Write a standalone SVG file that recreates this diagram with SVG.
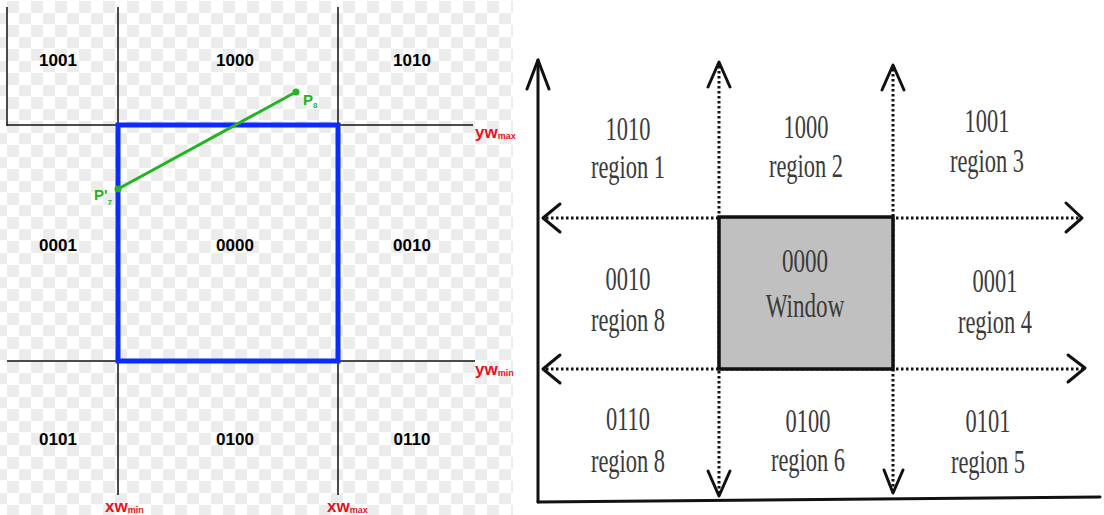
<svg xmlns="http://www.w3.org/2000/svg" width="1104" height="515" viewBox="0 0 1104 515">
<defs>
<pattern id="checker" x="0" y="0" width="24" height="24" patternUnits="userSpaceOnUse">
<rect width="24" height="24" fill="#ffffff"/>
<rect x="7" y="1" width="12" height="12" fill="#ececec"/>
<rect x="-5" y="13" width="12" height="12" fill="#ececec"/>
<rect x="19" y="13" width="12" height="12" fill="#ececec"/>
<rect x="7" y="-23" width="12" height="12" fill="#ececec"/>
</pattern>
</defs>
<style>
.ln{stroke:#111;stroke-width:1.5;fill:none}
.code{font-family:"Liberation Sans",Arial,sans-serif;font-weight:bold;font-size:17px;fill:#000;text-anchor:middle}
.red{font-family:"Liberation Sans",Arial,sans-serif;font-weight:bold;fill:#e4141c}
.grn{font-family:"Liberation Sans",Arial,sans-serif;font-weight:bold;fill:#22b422}
.dot{stroke:#111;stroke-width:3;stroke-dasharray:2.5 2.5;fill:none}
.arr{stroke:#111;stroke-width:3;fill:none;stroke-linecap:round;stroke-linejoin:round}
.ser{font-family:"Liberation Serif","Times New Roman",serif;font-size:34px;fill:#3a3a3a;text-anchor:middle}
</style>
<rect width="1104" height="515" fill="#ffffff"/>
<rect x="0" y="0" width="513" height="515" fill="url(#checker)"/>

<g id="left-grid">
<line class="ln" x1="7" y1="7" x2="7" y2="126"/>
<line class="ln" x1="118" y1="7" x2="118" y2="495"/>
<line class="ln" x1="338" y1="7" x2="338" y2="495"/>
<line class="ln" x1="7" y1="125" x2="473" y2="125"/>
<line class="ln" x1="7" y1="361" x2="475" y2="361"/>
</g>
<g id="clip-window">
<rect x="118" y="125" width="220" height="236" fill="none" stroke="#0a2cff" stroke-width="5"/>
</g>
<g id="left-codes">
<text class="code" x="58" y="66">1001</text>
<text class="code" x="235" y="66">1000</text>
<text class="code" x="412" y="66">1010</text>
<text class="code" x="58" y="251">0001</text>
<text class="code" x="235" y="251">0000</text>
<text class="code" x="412" y="251">0010</text>
<text class="code" x="58" y="445">0101</text>
<text class="code" x="235" y="445">0100</text>
<text class="code" x="412" y="445">0110</text>
</g>
<g id="segment">
<line x1="118" y1="189" x2="296" y2="92" stroke="#22b422" stroke-width="3"/>
<circle cx="296" cy="92" r="3.5" fill="#22b422"/>
<circle cx="118" cy="189" r="3.5" fill="#22b422"/>
<text class="grn" x="303" y="105" font-size="15">P<tspan font-size="8" dy="3">8</tspan></text>
<text class="grn" x="94" y="200" font-size="15">P'<tspan font-size="8" dy="5">7</tspan></text>
</g>
<g id="axis-labels">
<text class="red" x="475" y="138" font-size="17">yw<tspan font-size="9" dy="1">max</tspan></text>
<text class="red" x="475" y="375" font-size="17">yw<tspan font-size="9" dy="1">min</tspan></text>
<text class="red" x="105" y="512" font-size="17">xw<tspan font-size="9" dy="1">min</tspan></text>
<text class="red" x="327" y="512" font-size="17">xw<tspan font-size="9" dy="1">max</tspan></text>
</g>

<g id="connectors">
<line class="arr" x1="538" y1="60" x2="538" y2="502"/>
<line class="arr" x1="538" y1="502" x2="1100" y2="497"/>
<polyline class="arr" points="527,89 538,60 549,89"/>
<line class="dot" x1="719" y1="66" x2="719" y2="494"/>
<line class="dot" x1="893" y1="69" x2="893" y2="490"/>
<line class="dot" x1="546" y1="218" x2="1080" y2="218"/>
<line class="dot" x1="546" y1="369" x2="1083" y2="369"/>
<polyline class="arr" points="708,87 719,62 730,87"/>
<polyline class="arr" points="882,90 893,65 904,90"/>
<polyline class="arr" points="708,471 719,496 730,471"/>
<polyline class="arr" points="884,470 893,493 903,470"/>
<polyline class="arr" points="560,204 543,218 560,232"/>
<polyline class="arr" points="560,355 543,369 560,383"/>
<polyline class="arr" points="1066,203 1082,218 1066,232"/>
<polyline class="arr" points="1068,355 1085,368 1068,382"/>
</g>
<g id="window">
<rect x="719" y="217" width="174" height="152" fill="#c0c0c0" stroke="#111" stroke-width="3.5"/>
<text class="ser" transform="translate(805,272) scale(0.68,1)">0000</text>
<text class="ser" transform="translate(805,317) scale(0.68,1)" font-size="36">Window</text>
</g>
<g id="region1"><text class="ser" transform="translate(628,140) scale(0.66,1)">1010</text><text class="ser" transform="translate(628,178) scale(0.66,1)">region 1</text></g>
<g id="region2"><text class="ser" transform="translate(806,138) scale(0.66,1)">1000</text><text class="ser" transform="translate(806,177) scale(0.66,1)">region 2</text></g>
<g id="region3"><text class="ser" transform="translate(987,132) scale(0.66,1)">1001</text><text class="ser" transform="translate(987,172) scale(0.66,1)">region 3</text></g>
<g id="region8a"><text class="ser" transform="translate(628,290) scale(0.66,1)">0010</text><text class="ser" transform="translate(628,331) scale(0.66,1)">region 8</text></g>
<g id="region4"><text class="ser" transform="translate(995,292) scale(0.66,1)">0001</text><text class="ser" transform="translate(995,333) scale(0.66,1)">region 4</text></g>
<g id="region8b"><text class="ser" transform="translate(628,430) scale(0.66,1)">0110</text><text class="ser" transform="translate(628,472) scale(0.66,1)">region 8</text></g>
<g id="region6"><text class="ser" transform="translate(808,432) scale(0.66,1)">0100</text><text class="ser" transform="translate(808,471) scale(0.66,1)">region 6</text></g>
<g id="region5"><text class="ser" transform="translate(988,432) scale(0.66,1)">0101</text><text class="ser" transform="translate(988,473) scale(0.66,1)">region 5</text></g>
</svg>
